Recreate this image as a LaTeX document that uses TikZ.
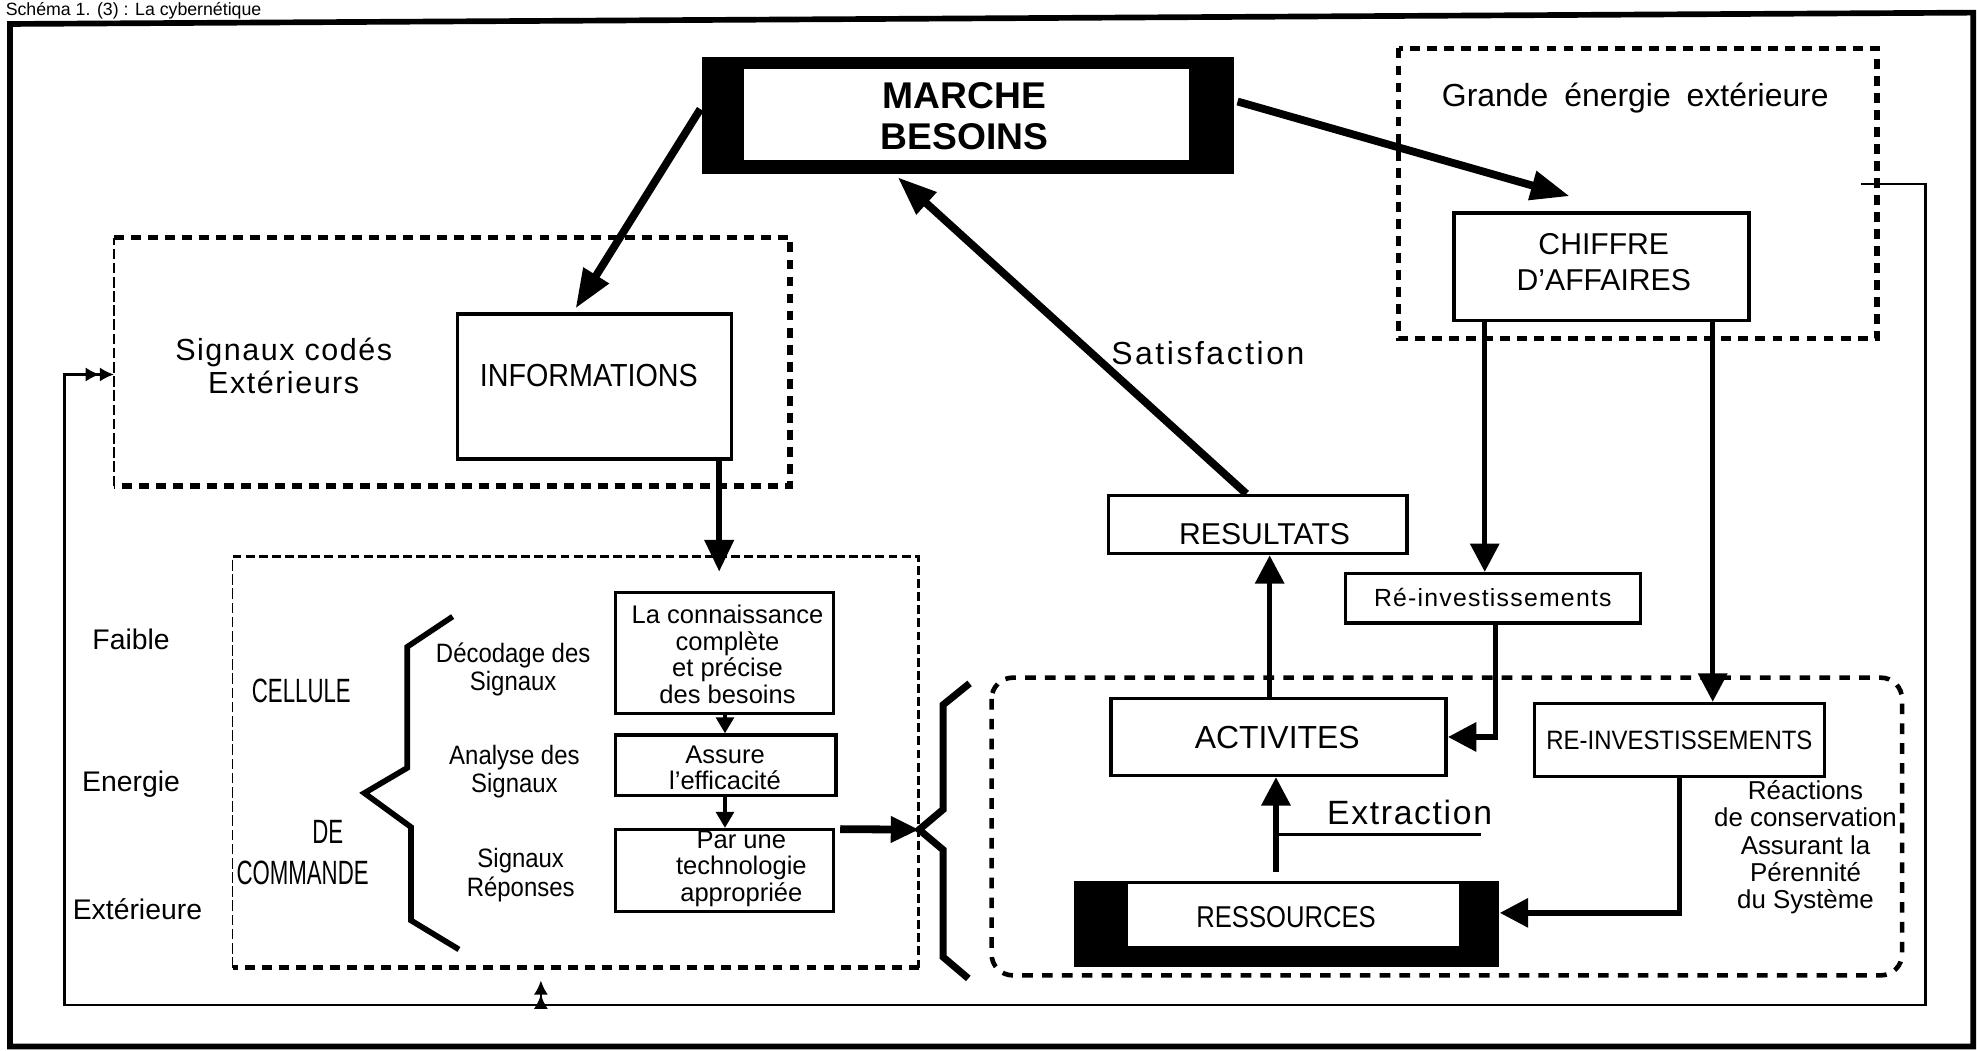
\documentclass[tikz,border=0pt]{standalone}
\usepackage{fontspec}
\setmainfont{Liberation Sans}
\newfontfamily\cnd[FakeStretch=0.85]{Liberation Sans}
\newfontfamily\cndx[FakeStretch=0.66]{Liberation Sans}
\newfontfamily\cndn[FakeStretch=0.9]{Liberation Sans}
\newfontfamily\wda[LetterSpace=5]{Liberation Sans}
\newfontfamily\wdb[LetterSpace=8]{Liberation Sans}
\usetikzlibrary{arrows.meta,fit,calc}
\begin{document}
\begin{tikzpicture}[x=0.0125cm,y=-0.0125cm,
 frame/.style={draw, line width=1pt, inner sep=0pt},
 lbl/.style={inner sep=0pt, align=center},
 bigarrow/.style={line width=2.2pt, -{Triangle[length=11pt,width=8pt]}},
 medarrow/.style={line width=1.5pt, -{Triangle[length=8pt,width=8pt]}},
 smallarrow/.style={line width=1pt, -{Triangle[length=4.5pt,width=5pt]}},
 fb/.style={line width=0.7pt},
 fbtip/.style={-{Latex[length=4pt,width=4pt]Latex[length=4pt,width=4pt]}},
 sq/.style={line width=1.5pt, dash pattern=on 2.8pt off 2pt},
 mdash/.style={line width=1pt, dash pattern=on 2.5pt off 1.2pt},
 tdash/.style={line width=0.5pt, dash pattern=on 3pt off 1pt},
 sl/.style={line width=1.3pt, dash pattern=on 3pt off 2.6pt},
 brace/.style={line width=1.6pt, line join=miter},
]
\useasboundingbox (0,0) rectangle (1568,833);
% caption
\node[anchor=base west, inner sep=0, font=\fontsize{5}{5}\selectfont] (cap) at (4,12.5) {Schéma 1. (3) : La cybernétique};
% outer frame
\draw[line width=1.6pt] (8,19) -- (1565,10) -- (1565,830) -- (8,830) -- cycle;

% MARCHE BESOINS
\node[fill=black, inner sep=0, fit={(557,45) (979,138)}] (marcheo) {};
\node[fill=white, inner sep=0, fit={(590,55) (943,127)}] (marchei) {};
\node[lbl, font=\bfseries\fontsize{10.5}{11.5}\selectfont] (marchet) at (765,92) {MARCHE\\BESOINS};

% Grande energie exterieure
\node[inner sep=0, fit={(1110,39) (1488,268)}] (grande) {};
\draw[sq] (grande.north west) rectangle (grande.south east);
\node[lbl, font=\fontsize{9}{9}\selectfont] (grandet) at (1297,78) {Grande\hspace{0.5em}énergie\hspace{0.5em}extérieure};
\node[frame, fit={(1153,169) (1387,254)}] (chiffre) {};
\node[lbl, font=\fontsize{8.5}{10}\selectfont] (chiffret) at (1272,208) {CHIFFRE\\D'AFFAIRES};

% Signaux codes
\node[inner sep=0, fit={(91,189) (626,385)}] (sig) {};
\draw[sq] (sig.north west) -- (sig.north east) -- (sig.south east) -- (sig.south west);
\draw[tdash] (sig.south west) -- (sig.north west);
\node[lbl, font={\wda\fontsize{8.6}{9.3}\selectfont}] (sigt) at (225,290) {Signaux codés\\Extérieurs};
\node[frame, fit={(363,249) (580,364)}] (info) {};
\node[lbl, font={\cndn\fontsize{9}{9}\selectfont}] (infot) at (467,298) {INFORMATIONS};

% Cellule de commande
\node[inner sep=0, fit={(185,442) (728,767)}] (cell) {};
\draw[mdash] (cell.north west) -- (cell.north east) -- (cell.south east);
\draw[sq] (cell.south east) -- (cell.south west);
\draw[tdash] (cell.south west) -- (cell.north west);
\node[lbl, font=\fontsize{8}{8}\selectfont] (faible) at (104,507) {Faible};
\node[lbl, font=\fontsize{8}{8}\selectfont] (energie) at (104,622) {Energie};
\node[lbl, font=\fontsize{8}{8}\selectfont] (exterieure) at (109,721) {Extérieure};
\node[lbl, font={\cndx\fontsize{9.5}{9.5}\selectfont}] (cellule) at (239,548) {CELLULE};
\node[lbl, font={\cndx\fontsize{9.5}{9.5}\selectfont}] (de) at (260,660) {DE};
\node[lbl, font={\cndx\fontsize{9.5}{9.5}\selectfont}] (commande) at (240,692) {COMMANDE};
\draw[brace] (359,489) -- (323,513) -- (323,609) -- (289,629) -- (326,656) -- (326,730) -- (364,753);
\node[lbl, font={\cndn\fontsize{7.5}{8}\selectfont}] (decod) at (407,531) {Décodage des\\Signaux};
\node[lbl, font={\cndn\fontsize{7.5}{8}\selectfont}] (analyse) at (408,612) {Analyse des\\Signaux};
\node[lbl, font={\cndn\fontsize{7.5}{8}\selectfont}] (reponses) at (413,694) {Signaux\\Réponses};
\node[frame, fit={(488,470) (661,566)}] (k1) {};
\node[lbl, font=\fontsize{7.2}{7.5}\selectfont] (k1t) at (577,519) {La connaissance\\complète\\et précise\\des besoins};
\node[frame, fit={(488,583) (663,631)}] (k2) {};
\node[lbl, font=\fontsize{7.2}{7.5}\selectfont] (k2t) at (575,609) {Assure\\l'efficacité};
\node[frame, fit={(488,658) (661,723)}] (k3) {};
\node[lbl, font=\fontsize{7.2}{7.5}\selectfont] (k3t) at (588,689) {Par une\\technologie\\appropriée};
\coordinate (ka) at (575,0);
\draw[smallarrow] (k1.south -| ka) -- (k2.north -| ka);
\draw[smallarrow] (k2.south -| ka) -- (k3.north -| ka);

% big brace
\coordinate (bt) at (729,658);
\draw[line width=2pt, line join=miter] (769,542) -- (748,559) -- (748,642) -- (bt) -- (748,674) -- (748,759) -- (768,776);
\draw[line width=2.2pt, -{Triangle[length=8pt,width=7pt]}] ($(k3.north east)+(4,1)$) -- (bt);

% right part
\node[frame, fit={(879,393) (1116,439)}] (res) {};
\node[lbl, font=\fontsize{8.5}{8.5}\selectfont] (rest) at (1003,424) {RESULTATS};
\node[frame, fit={(1067,455) (1301,494)}] (ri) {};
\node[lbl, font={\wda\fontsize{7}{7}\selectfont}] (rit) at (1184,474) {Ré-investissements};
\node[inner sep=0, fit={(787,538) (1508,773)}] (sys) {};
\draw[sl, rounded corners=6pt] (sys.north west) rectangle (sys.south east);
\node[frame, fit={(881,554) (1147,615)}] (act) {};
\node[lbl, font=\fontsize{9}{9}\selectfont] (actt) at (1013,585) {ACTIVITES};
\node[frame, fit={(1217,558) (1447,616)}] (rinv) {};
\node[lbl, font={\cndn\fontsize{7.5}{7.5}\selectfont}] (rinvt) at (1332,587) {RE-INVESTISSEMENTS};
\node[fill=black, inner sep=0, fit={(852,699) (1189,767)}] (rso) {};
\node[fill=white, inner sep=0, fit={(895,701) (1157,750)}] (rsi) {};
\node[lbl, font={\cnd\fontsize{8.5}{8.5}\selectfont}] (rst) at (1020,727) {RESSOURCES};
\node[lbl, font=\fontsize{7.3}{7.7}\selectfont] (reac) at (1432,672) {Réactions\\de conservation\\Assurant la\\Pérennité\\du Système};
\node[lbl, font={\wda\fontsize{9.5}{9.5}\selectfont}] (extr) at (1118,644) {Extraction};
\node[lbl, font={\wdb\fontsize{9}{9}\selectfont}] (satis) at (958,280) {Satisfaction};

% arrows
\draw[bigarrow] ($(marcheo.west)+(-1,-5)$) -- ($(info.north)+(-15,-3)$);
\draw[bigarrow] ($(marcheo.east)+(2,-11)$) -- ($(chiffre.north)+(-25,-12)$);
\draw[bigarrow] ($(res.north)+(-9,0)$) -- ($(marcheo.south)+(-56,2)$);
\coordinate (p1) at ($(info.south east)+(-11,0)$);
\draw[line width=1.8pt, -{Triangle[length=9pt,width=8pt]}] (p1) -- ($(p1 |- cell.north)+(0,12)$);
\coordinate (c1) at ($(chiffre.south west)+(26,0)$);
\draw[medarrow] (c1) -- (c1 |- ri.north);
\coordinate (c2) at ($(chiffre.south east)+(-30,0)$);
\draw[medarrow] (c2) -- (c2 |- rinv.north);
\draw[medarrow] ($(ri.south)+(2,0)$) |- (act.east);
\coordinate (a1) at ($(act.north)+(-7,0)$);
\draw[medarrow] (a1) -- (a1 |- res.south);
\coordinate (r1) at ($(act.south)+(-2,0)$);
\draw[medarrow] ($(r1 |- rso.north)+(0,-7)$) -- (r1);
\coordinate (ex2) at (1175,662);
\draw[line width=1pt] (r1 |- ex2) -- (ex2);
\draw[medarrow] (rinv.south) |- ($(rso.east)+(0,-9)$);

% feedback loop
\coordinate (f0) at (1476,146);
\coordinate (f1) at (1527,146);
\coordinate (f2) at (1527,797);
\coordinate (f3) at (51,797);
\coordinate (f4) at (51,297);
\coordinate (f5) at (429,797);
\draw[fb, fbtip] (f0) -- (f1) -- (f2) -- (f3) -- (f4) -- (f4 -| sig.west);
\draw[fb, fbtip] (f5) -- ($(f5 |- cell.south)+(0,10)$);
\end{tikzpicture}
\end{document}
